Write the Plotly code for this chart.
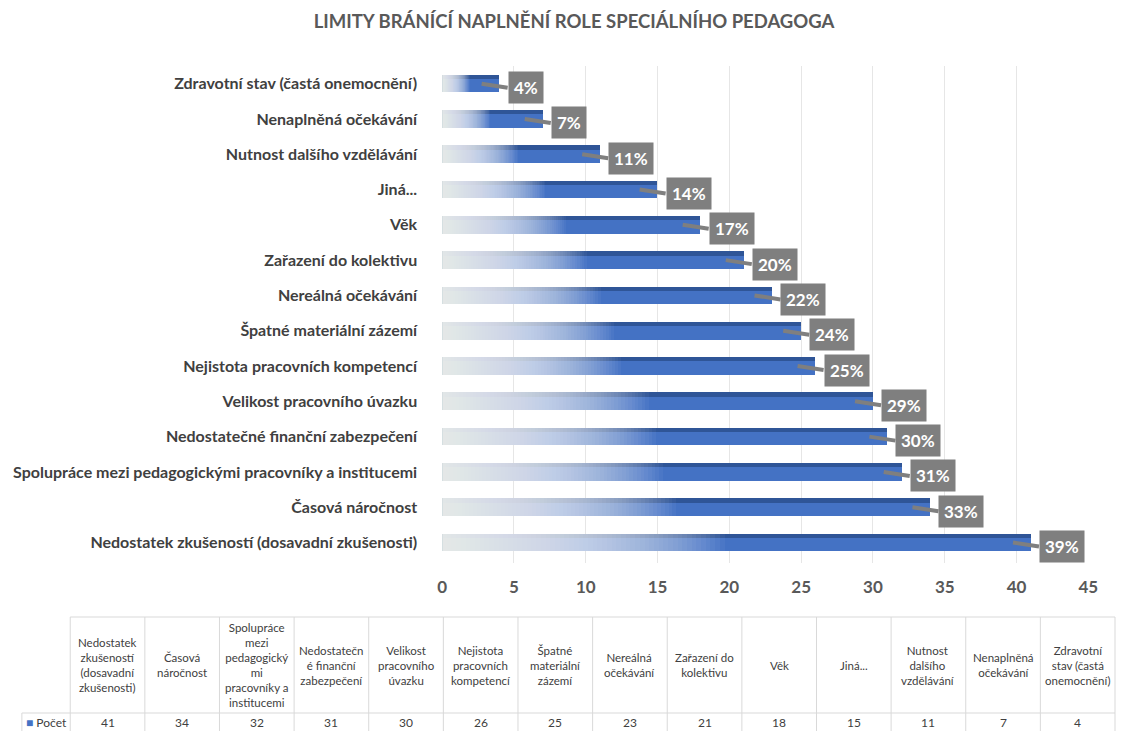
import plotly.graph_objects as go

# Data (descending order, as in the data table)
categories = [
    'Nedostatek zkušeností (dosavadní zkušenosti)',
    'Časová náročnost',
    'Spolupráce mezi pedagogickými pracovníky a institucemi',
    'Nedostatečné finanční zabezpečení',
    'Velikost pracovního úvazku',
    'Nejistota pracovních kompetencí',
    'Špatné materiální zázemí',
    'Nereálná očekávání',
    'Zařazení do kolektivu',
    'Věk',
    'Jiná...',
    'Nutnost dalšího vzdělávání',
    'Nenaplněná očekávání',
    'Zdravotní stav (častá onemocnění)',
]
counts = [41, 34, 32, 31, 30, 26, 25, 23, 21, 18, 15, 11, 7, 4]
percents = [39, 33, 31, 30, 29, 25, 24, 22, 20, 17, 14, 11, 7, 4]

# header text of the data table, wrapped as in the original
table_headers = [
    'Nedostatek<br>zkušeností<br>(dosavadní<br>zkušenosti)',
    'Časová<br>náročnost',
    'Spolupráce<br>mezi<br>pedagogický<br>mi<br>pracovníky a<br>institucemi',
    'Nedostatečn<br>é finanční<br>zabezpečení',
    'Velikost<br>pracovního<br>úvazku',
    'Nejistota<br>pracovních<br>kompetencí',
    'Špatné<br>materiální<br>zázemí',
    'Nereálná<br>očekávání',
    'Zařazení do<br>kolektivu',
    'Věk',
    'Jiná...',
    'Nutnost<br>dalšího<br>vzdělávání',
    'Nenaplněná<br>očekávání',
    'Zdravotní<br>stav (častá<br>onemocnění)',
]
series_name = 'Počet'

BLUE = '#4472C4'
DARK = '#2F5597'
GREY_TXT = '#595959'
GRID = '#D9D9D9'
FONT = 'Lato'

# the page body has an 8px margin, so the figure is a bit smaller and
# everything is placed in "screen" pixels minus that offset
OFF = 8
W, H = 1125 - OFF, 731 - OFF


def xp(px):
    return (px - OFF) / W


def yp(py):
    return 1 - (py - OFF) / H


fig = go.Figure()

# back/top face of the bars (darker)
fig.add_trace(go.Bar(x=counts, y=categories, orientation='h', width=0.5, offset=-0.25,
                     marker=dict(color=DARK, line=dict(width=0)), hoverinfo='skip'))
# front face
fig.add_trace(go.Bar(x=counts, y=categories, orientation='h', width=0.38, offset=-0.25,
                     marker=dict(color=BLUE, line=dict(width=0)), hoverinfo='skip'))
# white fade towards the left end of each bar
n_steps = 60
for k in range(1, n_steps + 1):
    frac = 0.48 * k / n_steps
    fig.add_trace(go.Bar(x=[c * frac for c in counts], y=categories, orientation='h',
                         width=0.5, offset=-0.25,
                         marker=dict(color='rgba(255,255,255,0.038)', line=dict(width=0)),
                         hoverinfo='skip'))

# percentage call-outs
for cat, c, p in zip(categories, counts, percents):
    fig.add_annotation(x=c - 1.25, y=cat, text=f'{p}%', showarrow=True,
                       ax=26, ay=4, xanchor='left', arrowhead=0, arrowwidth=4,
                       arrowcolor='#7F7F7F', bgcolor='#7F7F7F', borderpad=5,
                       font=dict(family=FONT, size=17, color='white', weight='bold'))

# ---- data table below the chart ----
tab_top, head_bot, tab_bot = 617, 713, 740
col0_left, col_left = 17, 66
col_w = (1125 - col_left) / len(categories)
val_y = 722

line = dict(color=GRID, width=1)
# horizontal rules
fig.add_shape(type='line', xref='paper', yref='paper', x0=xp(col_left), x1=xp(1125),
              y0=yp(tab_top), y1=yp(tab_top), line=line)
fig.add_shape(type='line', xref='paper', yref='paper', x0=xp(col0_left), x1=xp(1125),
              y0=yp(head_bot), y1=yp(head_bot), line=line)
# vertical rules
fig.add_shape(type='line', xref='paper', yref='paper', x0=xp(col0_left), x1=xp(col0_left),
              y0=yp(head_bot), y1=yp(tab_bot), line=line)
for i in range(len(categories) + 1):
    xx = xp(col_left + i * col_w)
    fig.add_shape(type='line', xref='paper', yref='paper', x0=xx, x1=xx,
                  y0=yp(tab_top), y1=yp(tab_bot), line=line)

for i, (h, c) in enumerate(zip(table_headers, counts)):
    cx = xp(col_left + (i + 0.5) * col_w)
    fig.add_annotation(x=cx, y=yp((tab_top + head_bot) / 2), xref='paper', yref='paper',
                       text=h, showarrow=False, align='center', xanchor='center', yanchor='middle',
                       font=dict(family=FONT, size=11.5, color='#404040'))
    fig.add_annotation(x=cx, y=yp(val_y), xref='paper', yref='paper',
                       text=str(c), showarrow=False, xanchor='center', yanchor='middle',
                       font=dict(family=FONT, size=12, color='#404040'))
fig.add_annotation(x=xp((col0_left + col_left) / 2), y=yp(val_y), xref='paper', yref='paper',
                   text=f"<span style='color:{BLUE}'>■</span> {series_name}", showarrow=False,
                   xanchor='center', yanchor='middle',
                   font=dict(family=FONT, size=12, color='#404040'))

fig.update_layout(
    width=W, height=H,
    margin=dict(l=0, r=0, t=0, b=0),
    paper_bgcolor='white', plot_bgcolor='white',
    barmode='overlay', showlegend=False, bargap=0,
    title=dict(text='LIMITY BRÁNÍCÍ NAPLNĚNÍ ROLE SPECIÁLNÍHO PEDAGOGA',
               x=xp(574), xanchor='center', y=yp(22), yanchor='middle',
               font=dict(family=FONT, size=18.5, color=GREY_TXT, weight='bold')),
    xaxis=dict(domain=[xp(443), xp(1098)], range=[0, 45], dtick=5,
               showgrid=True, gridcolor='#E6E6E6', zeroline=False, showline=False,
               ticklabelstandoff=12,
               tickfont=dict(family=FONT, size=17, color=GREY_TXT, weight='bold')),
    yaxis=dict(domain=[yp(563), yp(66)], showgrid=False, zeroline=False,
               ticklabelstandoff=24,
               tickfont=dict(family=FONT, size=16, color='#404040', weight='bold')),
)

fig.write_html('out.html')
